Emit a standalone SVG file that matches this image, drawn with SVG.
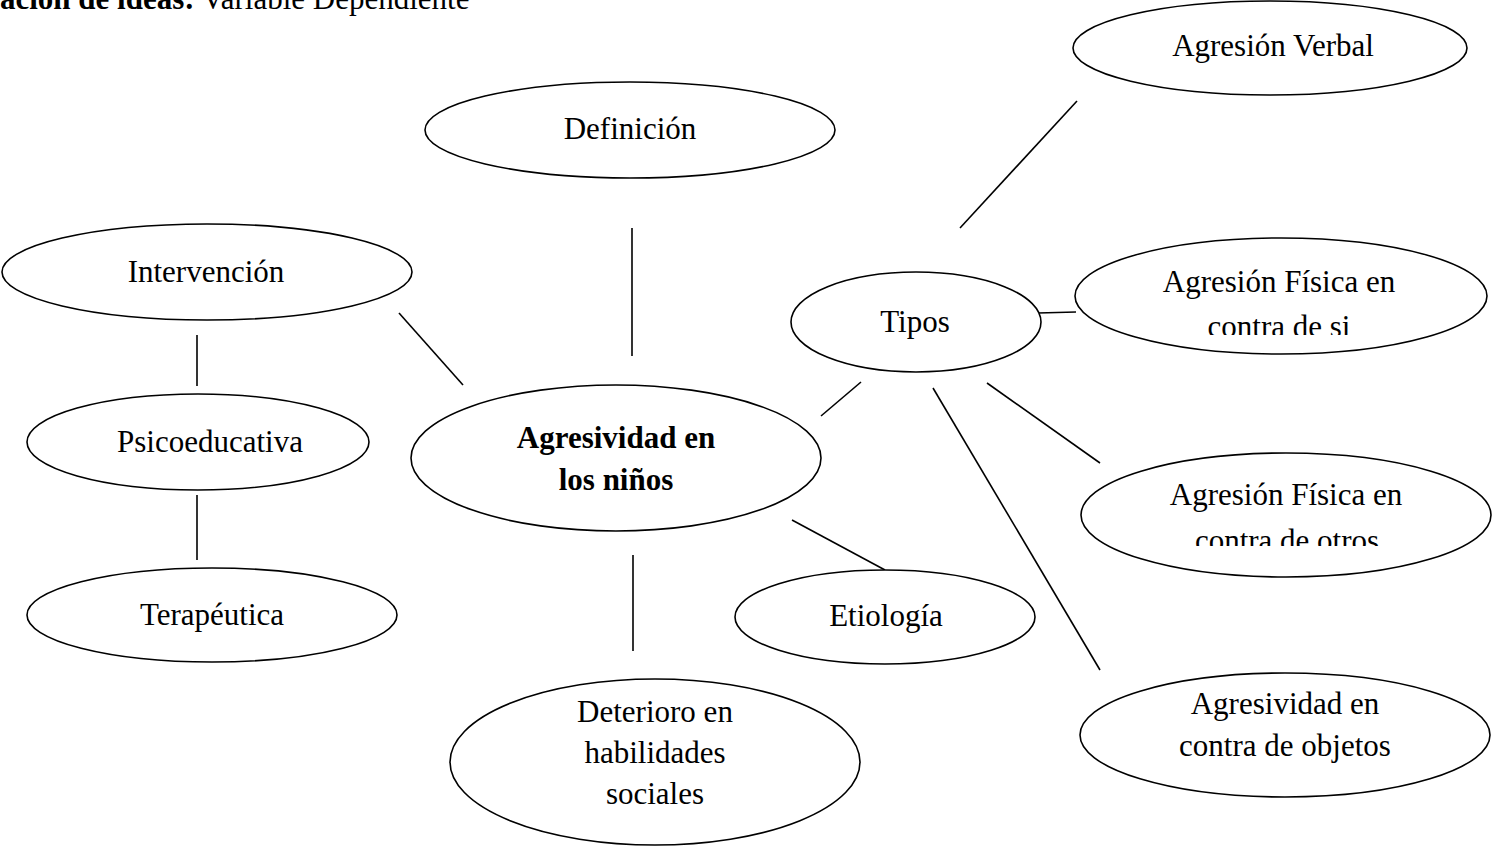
<svg xmlns="http://www.w3.org/2000/svg" width="1494" height="847" viewBox="0 0 1494 847">
<style>
text{font-family:"Liberation Serif","Times New Roman",serif;font-size:31px;fill:#000;text-anchor:middle}
.b{font-weight:bold}
ellipse{fill:#fff;stroke:#000;stroke-width:1.6}
#connectors line{stroke:#000;stroke-width:1.6}
</style>
<defs>
<clipPath id="clipSi"><rect x="1075" y="240" width="420" height="95"/></clipPath>
<clipPath id="clipOtros"><rect x="1081" y="455" width="420" height="91"/></clipPath>
</defs>
<rect width="1494" height="847" fill="#fff"/>
<text x="0" y="9" style="text-anchor:start"><tspan class="b">ación de ideas:</tspan> Variable Dependiente</text>
<g id="connectors">
<line x1="1077" y1="101" x2="960" y2="228"/>
<line x1="1038" y1="313" x2="1076" y2="312"/>
<line x1="987" y1="383" x2="1100" y2="463"/>
<line x1="933" y1="388" x2="1100" y2="670"/>
<line x1="861" y1="382" x2="821" y2="416"/>
<line x1="632" y1="228" x2="632" y2="356"/>
<line x1="399" y1="313" x2="463" y2="385"/>
<line x1="197" y1="335" x2="197" y2="386"/>
<line x1="197" y1="495" x2="197" y2="560"/>
<line x1="792" y1="520" x2="885" y2="570"/>
<line x1="633" y1="555" x2="633" y2="651"/>
</g>
<g id="verbal"><ellipse cx="1270" cy="48" rx="197" ry="47"/><text x="1273" y="56">Agresión Verbal</text></g>
<g id="definicion"><ellipse cx="630" cy="130" rx="205" ry="48"/><text x="630" y="139">Definición</text></g>
<g id="intervencion"><ellipse cx="207" cy="272" rx="205" ry="48"/><text x="206" y="282">Intervención</text></g>
<g id="tipos"><ellipse cx="916" cy="322" rx="125" ry="50"/><text x="915" y="332">Tipos</text></g>
<g id="fisica-si"><ellipse cx="1281" cy="296" rx="206" ry="58"/><text x="1279" y="292">Agresión Física en</text><text x="1279" y="337" clip-path="url(#clipSi)">contra de si</text></g>
<g id="psicoeducativa"><ellipse cx="198" cy="442" rx="171" ry="48"/><text x="210" y="452">Psicoeducativa</text></g>
<g id="centro"><ellipse cx="616" cy="458" rx="205" ry="73"/><text class="b" x="616" y="448">Agresividad en</text><text class="b" x="616" y="490">los niños</text></g>
<g id="fisica-otros"><ellipse cx="1286" cy="515" rx="205" ry="62"/><text x="1286" y="505">Agresión Física en</text><text x="1287" y="551" clip-path="url(#clipOtros)">contra de otros</text></g>
<g id="terapeutica"><ellipse cx="212" cy="615" rx="185" ry="47"/><text x="212" y="625">Terapéutica</text></g>
<g id="etiologia"><ellipse cx="885" cy="617" rx="150" ry="47"/><text x="886" y="626">Etiología</text></g>
<g id="deterioro"><ellipse cx="655" cy="762" rx="205" ry="83"/><text x="655" y="722">Deterioro en</text><text x="655" y="763">habilidades</text><text x="655" y="804">sociales</text></g>
<g id="objetos"><ellipse cx="1285" cy="735" rx="205" ry="62"/><text x="1285" y="714">Agresividad en</text><text x="1285" y="756">contra de objetos</text></g>
</svg>
